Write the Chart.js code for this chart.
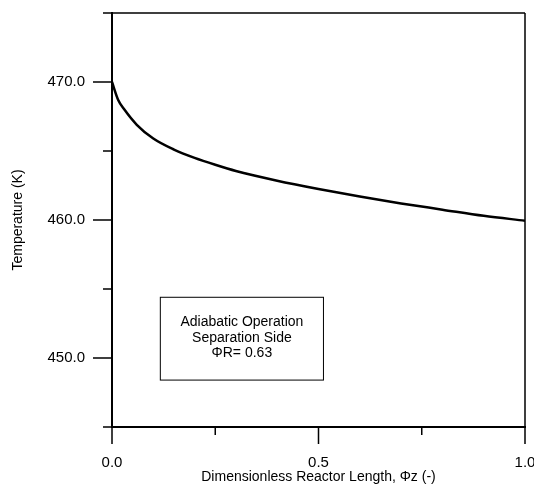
<!DOCTYPE html>
<html>
<head>
<meta charset="utf-8">
<script src="https://cdn.jsdelivr.net/npm/chart.js@4/dist/chart.umd.min.js"></script>
<style>
  html, body { margin: 0; padding: 0; background: #fff; }
  #wrap { width: 534px; height: 485px; }
</style>
</head>
<body>
<div id="wrap"><canvas id="tempProfile"></canvas></div>
<script>
  // reactor length (dimensionless) vs temperature (K)
  var zLength = [0, 0.015, 0.03, 0.06, 0.10, 0.15, 0.20, 0.25, 0.30, 0.40, 0.50, 0.60, 0.70, 0.80, 0.90, 1.0];
  var temperature = [470.0, 468.7, 468.0, 466.9, 465.9, 465.1, 464.5, 464.0, 463.55, 462.85, 462.25, 461.7, 461.2, 460.75, 460.3, 459.95];

  var xMajor = [0, 0.5, 1.0];
  var xMinor = [0.25, 0.75];
  var yMajor = [450, 460, 470];
  var yMinor = [445, 455, 465, 475];

  var noteLines = ['Adiabatic Operation', 'Separation Side', 'ΦR= 0.63'];
  var noteBox = { x0: 0.117, x1: 0.512, y0: 454.4, y1: 448.4 };

  var FONT = '"Liberation Sans", Arial, sans-serif';

  // frame, tick marks and the text box
  var decor = {
    id: 'decor',
    afterDraw: function(chart) {
      var ctx = chart.ctx, a = chart.chartArea;
      var xs = chart.scales.x, ys = chart.scales.y;
      ctx.save();
      ctx.strokeStyle = '#000';
      ctx.lineWidth = 1.5;
      ctx.beginPath();
      ctx.moveTo(a.left, a.top); ctx.lineTo(a.right, a.top);
      ctx.moveTo(a.right, a.top); ctx.lineTo(a.right, a.bottom);
      ctx.stroke();

      ctx.beginPath();
      yMajor.forEach(function(v) {
        var y = ys.getPixelForValue(v);
        ctx.moveTo(a.left - 19, y); ctx.lineTo(a.left, y);
      });
      yMinor.forEach(function(v) {
        var y = ys.getPixelForValue(v);
        ctx.moveTo(a.left - 9, y); ctx.lineTo(a.left, y);
      });
      xMajor.forEach(function(v) {
        var x = xs.getPixelForValue(v);
        ctx.moveTo(x, a.bottom); ctx.lineTo(x, a.bottom + 17);
      });
      xMinor.forEach(function(v) {
        var x = xs.getPixelForValue(v);
        ctx.moveTo(x, a.bottom); ctx.lineTo(x, a.bottom + 8);
      });
      ctx.stroke();

      var bx0 = xs.getPixelForValue(noteBox.x0), bx1 = xs.getPixelForValue(noteBox.x1);
      var by0 = ys.getPixelForValue(noteBox.y0), by1 = ys.getPixelForValue(noteBox.y1);
      ctx.lineWidth = 1;
      ctx.strokeRect(bx0, by0, bx1 - bx0, by1 - by0);
      ctx.fillStyle = '#000';
      ctx.font = '14px ' + FONT;
      ctx.textAlign = 'center';
      ctx.textBaseline = 'middle';
      var cx = (bx0 + bx1) / 2;
      noteLines.forEach(function(t, i) {
        ctx.fillText(t, cx, by0 + 25 + i * 15.5);
      });
      ctx.restore();
    }
  };

  new Chart(document.getElementById('tempProfile'), {
    type: 'scatter',
    data: {
      datasets: [{
        data: zLength.map(function(z, i) { return { x: z, y: temperature[i] }; }),
        showLine: true,
        borderColor: '#000',
        borderWidth: 2.5,
        pointRadius: 0,
        cubicInterpolationMode: 'monotone'
      }]
    },
    options: {
      responsive: true,
      maintainAspectRatio: false,
      animation: false,
      layout: { padding: { left: 0, top: 13, right: 9, bottom: 0 } },
      plugins: { legend: { display: false }, tooltip: { enabled: false } },
      scales: {
        x: {
          type: 'linear', min: 0, max: 1,
          afterBuildTicks: function(s) { s.ticks = xMajor.map(function(v) { return { value: v }; }); },
          afterFit: function(s) { s.height = 58; s.paddingLeft = 0; s.paddingRight = 0; },
          grid: { display: false, drawTicks: false, tickLength: 0 },
          border: { display: true, color: '#000', width: 2 },
          ticks: {
            color: '#000', padding: 27, maxRotation: 0,
            font: { family: FONT, size: 15 },
            callback: function(v) { return Number(v).toFixed(1); }
          },
          title: {
            display: true, text: 'Dimensionless Reactor Length, Φz (-)', color: '#000',
            font: { family: FONT, size: 14 }, padding: { top: 0, bottom: -1 }
          }
        },
        y: {
          min: 445, max: 475,
          afterBuildTicks: function(s) { s.ticks = yMajor.map(function(v) { return { value: v }; }); },
          afterFit: function(s) { s.width = 112; s.paddingTop = 0; s.paddingBottom = 0; },
          grid: { display: false, drawTicks: false, tickLength: 0 },
          border: { display: true, color: '#000', width: 2 },
          ticks: {
            color: '#000', padding: 27,
            font: { family: FONT, size: 15 },
            callback: function(v) { return Number(v).toFixed(1); }
          },
          title: {
            display: true, text: 'Temperature (K)', color: '#000',
            font: { family: FONT, size: 14 }, padding: { top: 10, bottom: 0 }
          }
        }
      }
    },
    plugins: [decor]
  });
</script>
</body>
</html>
